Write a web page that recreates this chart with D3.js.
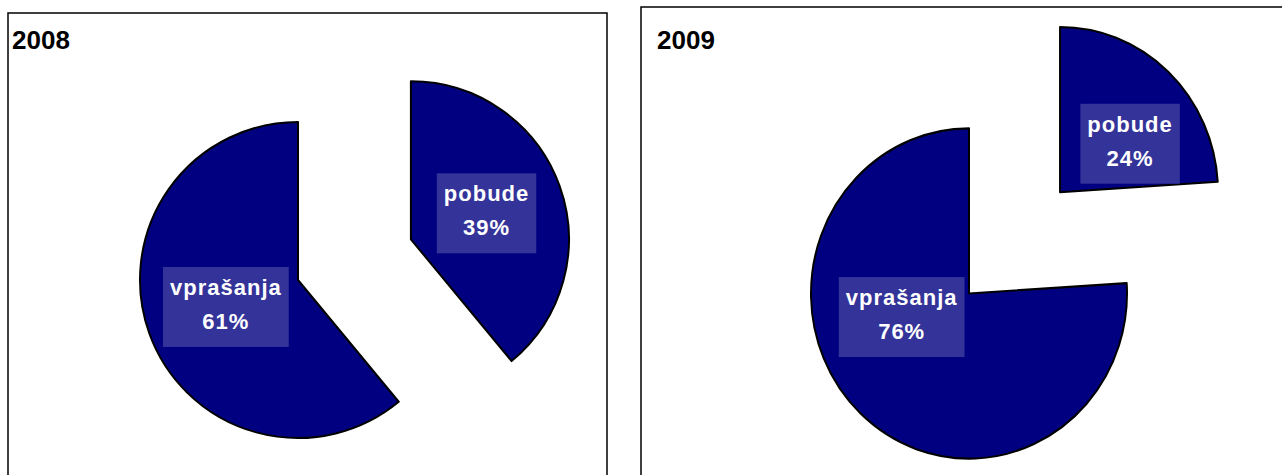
<!DOCTYPE html>
<html>
<head>
<meta charset="utf-8">
<script src="https://cdn.jsdelivr.net/npm/d3@7"></script>
<style>
  body { margin: 0; background: #fff; }
  svg { display: block; }
  .title { font-family: "Liberation Sans", Arial, sans-serif; font-weight: bold; font-size: 26px; fill: #000; }
  .lbl { font-family: "Liberation Sans", Arial, sans-serif; font-weight: bold; font-size: 22px; fill: #fff; letter-spacing: 1px; }
</style>
</head>
<body>
<script>
// data
var years = ["2008", "2009"];
var categories = ["pobude", "vprašanja"];
var values2008 = [39, 61];
var values2009 = [24, 76];

var width = 1282;
var height = 475;

var svg = d3.select("body").append("svg")
    .attr("width", width)
    .attr("height", height);

// panel layout (frame, pie apex, explode distance, label placement)
var panels = [
    {
        year: years[0], values: values2008,
        frame: { x: 8, y: 13, w: 599, h: 520 },
        cx: 298, cy: 280, r: 158, sy: 1, explode: 120,
        labels: [ { a: 71, d: 80 }, { a: 249.5, d: 77 } ]
    },
    {
        year: years[1], values: values2009,
        frame: { x: 641, y: 7, w: 700, h: 520 },
        cx: 969, cy: 293.5, r: 158, sy: 1.045, explode: 133,
        labels: [ { a: 56.5, d: 84 }, { a: 251.5, d: 71 } ]
    }
];

var pie = d3.pie().sort(null).value(function(d) { return d.value; });

panels.forEach(function(p) {
    var g = svg.append("g");

    g.append("rect")
        .attr("x", p.frame.x)
        .attr("y", p.frame.y)
        .attr("width", p.frame.w)
        .attr("height", p.frame.h)
        .attr("fill", "#fff")
        .attr("stroke", "#000")
        .attr("stroke-width", 1.5);

    g.append("text")
        .attr("class", "title")
        .attr("x", p.frame.x + 4 + (p.frame.y < 10 ? 12 : 0))
        .attr("y", 49)
        .text(p.year);

    var rows = categories.map(function(c, i) { return { name: c, value: p.values[i] }; });
    var arcs = pie(rows);
    var arc = d3.arc().innerRadius(0).outerRadius(p.r);

    arcs.forEach(function(d, i) {
        var mid = (d.startAngle + d.endAngle) / 2;
        var off = i === 0 ? p.explode : 0;
        var dx = Math.sin(mid) * off;
        var dy = -Math.cos(mid) * off;

        g.append("path")
            .attr("d", arc(d))
            .attr("transform", "translate(" + (p.cx + dx) + "," + (p.cy + dy * p.sy) + ") scale(1," + p.sy + ")")
            .attr("fill", "#000080")
            .attr("stroke", "#000")
            .attr("stroke-width", 2)
            .attr("stroke-linejoin", "round");
    });

    // labels
    arcs.forEach(function(d, i) {
        var mid = (d.startAngle + d.endAngle) / 2;
        var off = i === 0 ? p.explode : 0;
        var ax = p.cx + Math.sin(mid) * off;
        var ay = p.cy - Math.cos(mid) * off * p.sy;
        var la = p.labels[i].a * Math.PI / 180;
        var lx = ax + Math.sin(la) * p.labels[i].d;
        var ly = ay - Math.cos(la) * p.labels[i].d * p.sy;

        var lg = g.append("g");
        var box = lg.append("rect");
        var t = lg.append("text")
            .attr("class", "lbl")
            .attr("text-anchor", "middle");
        t.append("tspan").attr("x", lx).attr("y", ly - 12).text(d.data.name);
        t.append("tspan").attr("x", lx).attr("y", ly + 22).text(d.data.value + "%");

        var bb = t.node().getBBox();
        var pad = 7;
        box.attr("x", lx - bb.width / 2 - pad)
            .attr("y", ly - 40)
            .attr("width", bb.width + pad * 2)
            .attr("height", 80)
            .attr("fill", "#333399");
    });
});
</script>
</body>
</html>
